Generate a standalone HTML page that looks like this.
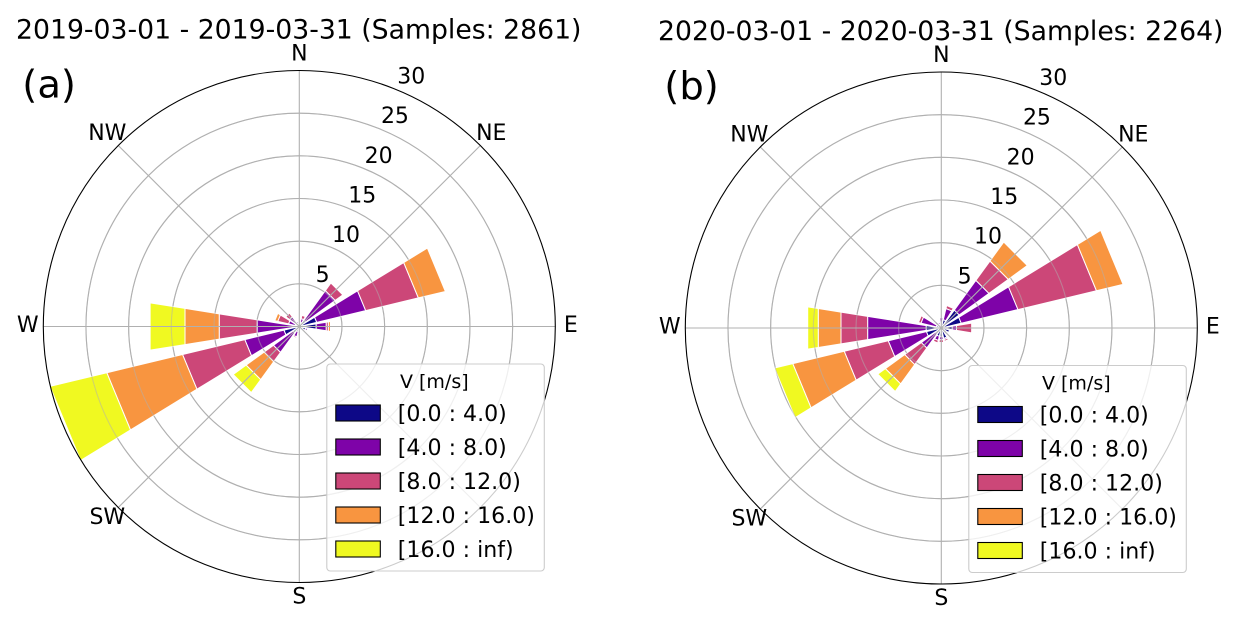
<!DOCTYPE html>
<html lang="en">
<head>
<meta charset="utf-8">
<title>Wind rose comparison</title>
<style>
html,body{margin:0;padding:0;background:#fff;width:1239px;height:624px;overflow:hidden}
svg{display:block;font-family:"DejaVu Sans","Liberation Sans",sans-serif;fill:#000}
</style>
</head>
<body>
<svg id="chart" xmlns="http://www.w3.org/2000/svg" width="1239" height="624" viewBox="0 0 1239 624"></svg>
<script>
// Shared labels
const directions = ['N','NNE','NE','ENE','E','ESE','SE','SSE','S','SSW','SW','WSW','W','WNW','NW','NNW'];
const compassLabels = ['N','NE','E','SE','S','SW','W','NW'];
const hiddenCompassLabels = ['SE'];
const radialTicks = [5,10,15,20,25,30];
const speedBins = ['[0.0 : 4.0)','[4.0 : 8.0)','[8.0 : 12.0)','[12.0 : 16.0)','[16.0 : inf)'];
const binColors = ['#0d0887','#7e03a8','#cc4778','#f89540','#f0f921'];

// Panel (a) frequency per direction (N clockwise), one array per speed bin
const a2019Bin0 = [.5,.5,.9,2.1,2.0,.8,.4,.5,.5,.6,.9,1.85,.6,.5,.4,.4];
const a2019Bin1 = [.1,.45,4.3,5.9,1.2,.2,.1,.1,.3,.65,2.85,4.72,4.4,.8,1.0,.2];
const a2019Bin2 = [0,.4,1.1,6.35,.25,.05,0,0,.2,.15,1.35,7.5,4.5,1.3,.55,0];
const a2019Bin3 = [0,0,0,3.25,.25,0,0,0,0,0,2.6,9.13,4.06,.35,0,0];
const a2019Bin4 = [0,0,0,0,0,0,0,0,0,0,1.87,6.85,4.14,0,0,0];

// Panel (b) frequency per direction (N clockwise), one array per speed bin
const b2020Bin0 = [.7,1.0,2.6,2.4,1.3,1.0,.8,1.25,1,1,.8,1.8,1.8,.6,.5,.5];
const b2020Bin1 = [.5,1.35,4.3,6.84,.5,.1,.1,.15,.4,.5,2.1,4.6,6.94,1.85,.4,.2];
const b2020Bin2 = [0,.35,2.8,9.46,1.8,0,0,.2,.3,.3,2.4,5.3,3.16,.3,0,0];
const b2020Bin3 = [0,0,2.75,3.2,0,0,0,0,0,0,2.8,6.2,2.7,0,0,0];
const b2020Bin4 = [0,0,0,0,0,0,0,0,0,0,1.1,2.2,1.25,0,0,0];

const titleA = '2019-03-01 - 2019-03-31 (Samples: 2861)';
const titleB = '2020-03-01 - 2020-03-31 (Samples: 2264)';

const NS = 'http://www.w3.org/2000/svg';
const root = document.getElementById('chart');
const RMAX = 30, RPX = 256, HALF_W = 9;

function make(parent, tag, attrs, txt) {
  const el = document.createElementNS(NS, tag);
  for (const k in attrs) el.setAttribute(k, attrs[k]);
  if (txt !== undefined) el.textContent = txt;
  parent.appendChild(el);
  return el;
}

function drawPanel(id, cx, cy, title, titleX, titleY, letter, bins) {
  const rScale = v => v / RMAX * RPX;
  const pt = (deg, v) => {
    const t = deg * Math.PI / 180, r = rScale(v);
    return [cx + r * Math.sin(t), cy - r * Math.cos(t)];
  };

  const g = make(root, 'g', {});
  
  

  // rings beneath the bars
  radialTicks.slice(0, -1).forEach(v => {
    const ring = make(g, 'circle', {cx: cx, cy: cy, r: rScale(v), fill: 'none', stroke: '#b0b0b0', 'stroke-width': 1.1});
    
    
  });

  // bars
  bins.forEach((bin, b) => {
    bin.forEach((val, d) => {
      if (val <= 0) return;
      let base = 0;
      for (let j = 0; j < b; j++) base += bins[j][d];
      const ang = d * 22.5;
      const p = [pt(ang - HALF_W, base), pt(ang + HALF_W, base), pt(ang + HALF_W, base + val), pt(ang - HALF_W, base + val)];
      const bar = make(g, 'polygon', {
        points: p.map(q => q[0].toFixed(2) + ',' + q[1].toFixed(2)).join(' '),
        fill: binColors[b], stroke: '#fff', 'stroke-width': 1
      });
      
      
    });
  });

  // faint ring trace showing across the bars
  radialTicks.slice(0, -1).forEach(v => {
    const trace = make(g, 'circle', {cx: cx, cy: cy, r: rScale(v), fill: 'none', stroke: '#b0b0b0', 'stroke-width': 1.1, 'stroke-opacity': .5});
    
    
  });

  // spokes sit above the bars
  compassLabels.forEach((lab, i) => {
    const e = pt(i * 45, RMAX);
    const spoke = make(g, 'line', {x1: cx, y1: cy, x2: e[0], y2: e[1], stroke: '#b0b0b0', 'stroke-width': 1.1});
    
    
  });

  const spine = make(g, 'circle', {cx: cx, cy: cy, r: RPX, fill: 'none', stroke: '#000', 'stroke-width': 1.1});
  
  

  // compass labels
  compassLabels.forEach((lab, i) => {
    if (hiddenCompassLabels.includes(lab)) return;
    const e = pt(i * 45, RMAX);
    const t = i * 45 * Math.PI / 180;
    const x = e[0] + 15.5 * Math.sin(t);
    const y = e[1] - 15.5 * Math.cos(t) + 5.5;
    const label = make(g, 'text', {x: x, y: y, 'font-size': 22, 'text-anchor': 'middle'}, lab);
    
    
  });

  // radial tick labels
  radialTicks.forEach(v => {
    const e = pt(22.5, v);
    const tick = make(g, 'text', {x: e[0], y: e[1] - 5 - v * 0.05, 'font-size': 22}, String(v));
    
    
  });

  const ttl = make(g, 'text', {x: titleX, y: titleY, 'font-size': 26.7}, title);
  
  

  const let1 = make(g, 'text', {x: cx - 277, y: cy - 229, 'font-size': 38.5}, letter);
  
  

  // legend
  const lx = cx + 27.5, ly = cy + 37.5;
  const leg = make(g, 'g', {});
  
  
  const frame = make(leg, 'rect', {x: lx, y: ly, width: 217.5, height: 207, rx: 3.5, fill: '#fff', 'fill-opacity': .8, stroke: '#ccc', 'stroke-width': 1.1});
  
  
  const lt = make(leg, 'text', {x: lx + 107.5, y: ly + 24, 'font-size': 19, 'text-anchor': 'middle'}, 'V [m/s]');
  
  
  speedBins.forEach((s, i) => {
    const yy = ly + 41 + i * 34;
    const sw = make(leg, 'rect', {x: lx + 9, y: yy, width: 44.5, height: 16, fill: binColors[i], stroke: '#000', 'stroke-width': 1.1});
    
    
    const tx = make(leg, 'text', {x: lx + 71, y: yy + 16, 'font-size': 22.1}, s);
    
    
  });
}

drawPanel('a', 299.3, 326.5, titleA, 16, 38.3, '(a)', [a2019Bin0, a2019Bin1, a2019Bin2, a2019Bin3, a2019Bin4]);
drawPanel('b', 941.3, 328, titleB, 658, 40, '(b)', [b2020Bin0, b2020Bin1, b2020Bin2, b2020Bin3, b2020Bin4]);
</script>
</body>
</html>
